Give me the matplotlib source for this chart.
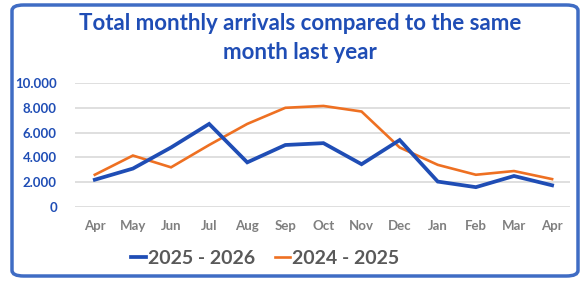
import numpy as np
import matplotlib.pyplot as plt
from matplotlib.patches import FancyBboxPatch

# data
months = ["Apr", "May", "Jun", "Jul", "Aug", "Sep", "Oct", "Nov", "Dec",
          "Jan", "Feb", "Mar", "Apr"]
arr_2025 = [2200, 3100, 4800, 6700, 3600, 5000, 5150, 3450, 5400,
            2050, 1600, 2500, 1750]
arr_2024 = [2600, 4150, 3200, 5000, 6700, 8000, 8150, 7700, 4800,
            3400, 2600, 2900, 2250]
yticks = [0, 2000, 4000, 6000, 8000, 10000]
ytick_labels = ["0", "2.000", "4.000", "6.000", "8.000", "10.000"]

plt.rcParams["font.family"] = ["Lato", "DejaVu Sans"]

W, H = 584, 281
fig = plt.figure(figsize=(W / 100, H / 100), dpi=100)

# rounded blue frame, behind the axes
frame = FancyBboxPatch((12 / W, 5 / H), 566 / W, 271 / H,
                       boxstyle="round,pad=0,rounding_size=0.02",
                       transform=fig.transFigure, facecolor="white",
                       edgecolor="#3F6CC4", linewidth=2.5, zorder=-5)
fig.patches.append(frame)

ax = fig.add_axes([75 / W, 1 - 207 / H, 495 / W, 124 / H])
ax.set_facecolor("none")
ax.set_zorder(2)

x = np.arange(len(months))
ax.plot(x, arr_2025, color="#1F4DB5", lw=2.7, label="2025 - 2026",
        solid_joinstyle="miter", zorder=3)
ax.plot(x, arr_2024, color="#EE7022", lw=1.9, label="2024 - 2025",
        solid_joinstyle="miter", zorder=2)

ax.set_xlim(-0.52, 12.47)
ax.set_ylim(0, 10000)
ax.set_yticks(yticks)
ax.set_yticklabels(ytick_labels)
ax.set_xticks(x)
ax.set_xticklabels(months)

for s in ax.spines.values():
    s.set_visible(False)
ax.tick_params(length=0)
ax.tick_params(axis="y", pad=13, labelsize=9.5, labelcolor="#1F4DB5")
ax.tick_params(axis="x", pad=9, labelsize=9.5, labelcolor="#7F7F7F")
for lbl in ax.get_yticklabels() + ax.get_xticklabels():
    lbl.set_fontweight("bold")
ax.grid(axis="y", color="#D9D9D9", lw=1.2)
ax.set_axisbelow(True)

fig.text(300 / W, 1 - 23 / H, "Total monthly arrivals compared to the same",
         ha="center", va="center", fontsize=16, fontweight="bold",
         color="#1F4DB5")
fig.text(300 / W, 1 - 53 / H, "month last year",
         ha="center", va="center", fontsize=16, fontweight="bold",
         color="#1F4DB5")

leg = fig.legend(loc="center", bbox_to_anchor=(265 / W, 1 - 258 / H),
                 ncol=2, frameon=False, fontsize=14, handlelength=0.8,
                 handletextpad=0.1, columnspacing=1.0)
for t in leg.get_texts():
    t.set_color("#595959")
    t.set_fontweight("bold")

fig.savefig("out.png", dpi=100)
